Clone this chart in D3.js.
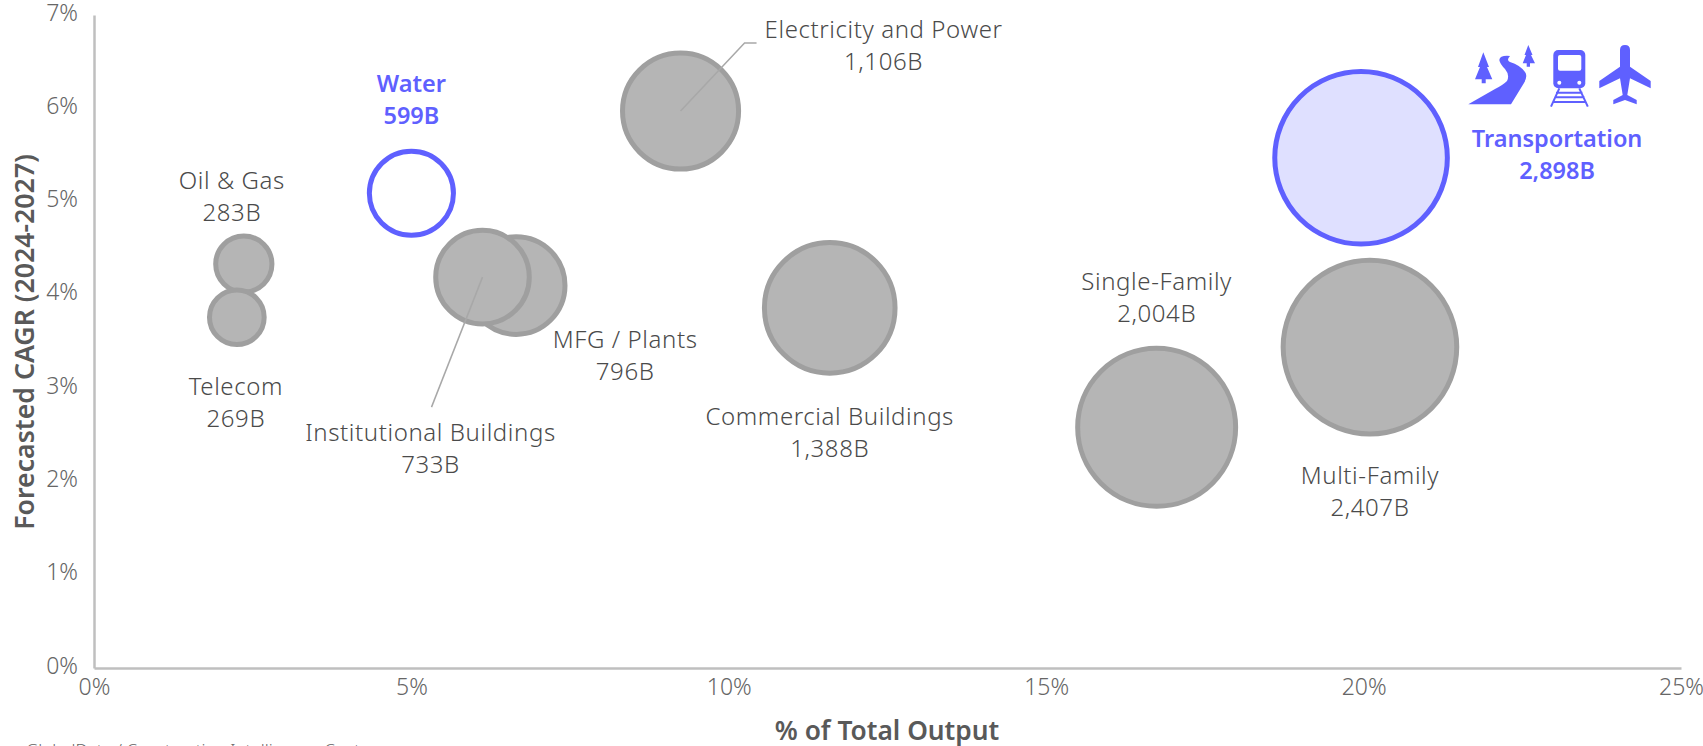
<!DOCTYPE html>
<html>
<head>
<meta charset="utf-8">
<script src="https://cdn.jsdelivr.net/npm/d3@7"></script>
<style>
html, body { margin: 0; padding: 0; background: #fff; overflow: hidden; }
svg { display: block; }
text { font-family: "Noto Sans", sans-serif; }
</style>
</head>
<body>
<div id="chart"></div>
<script>
// values
const names = ['Transportation', 'Multi-Family', 'Single-Family', 'Commercial Buildings', 'Electricity and Power',
   'MFG / Plants', 'Institutional Buildings', 'Water', 'Oil & Gas', 'Telecom'];
const shareOfOutput = [19.96, 20.1, 16.74, 11.59, 9.24, 6.65, 6.12, 5.0, 2.36, 2.25];
const forecastCagr = [5.47, 3.44, 2.58, 3.86, 5.97, 4.10, 4.19, 5.09, 4.33, 3.76];
const outputLabels = ['2,898B', '2,407B', '2,004B', '1,388B', '1,106B', '796B', '733B', '599B', '283B', '269B'];
// bubble sizes follow the labels, except Transportation which is drawn smaller than its label says
const bubbleSize = [2380, 2407, 2004, 1388, 1106, 796, 733, 599, 283, 269];
const highlighted = ['Transportation', 'Water'];
const xTicks = [0, 5, 10, 15, 20, 25];
const yTicks = [0, 1, 2, 3, 4, 5, 6, 7];

const outerWidth = 1703;
const outerHeight = 746;
const margin = {top: 15, right: 22, bottom: 78, left: 94};
const width = outerWidth - margin.left - margin.right;
const height = outerHeight - margin.top - margin.bottom;

const grey = '#b5b5b5';
const greyStroke = '#9f9f9f';
const blue = '#5f60ff';
const textColor = '#4a4a4a';
const tickColor = '#666666';
const strokeWidth = 5;

// label anchor: offset from the bubble centre to the middle of the first baseline
const labelOffset = {
   'Transportation': [196, -11],
   'Multi-Family': [0, 137],
   'Single-Family': [0, -137],
   'Commercial Buildings': [0, 117],
   'Electricity and Power': [203, -73],
   'MFG / Plants': [109, 62],
   'Institutional Buildings': [-52, 164],
   'Water': [0, -101],
   'Oil & Gas': [-12, -75],
   'Telecom': [-1, 78]
};
// leader lines, offsets from the bubble centre
const leaderOffset = {
   'Electricity and Power': [[0, 0], [64, -68], [76, -68]],
   'Institutional Buildings': [[0, 0], [-51, 130]]
};

const svg = d3.select('#chart').append('svg')
   .attr('width', outerWidth)
   .attr('height', outerHeight);

const g = svg.append('g')
   .attr('transform', `translate(${margin.left}, ${margin.top})`);

const x = d3.scaleLinear().domain([0, 25]).range([0, width]);
const y = d3.scaleLinear().domain([0, 7]).range([height, 0]);
const r = d3.scaleSqrt().domain([0, 2407]).range([0, 89.3]);

const xAxis = d3.axisBottom(x).tickValues(xTicks).tickFormat(d => d + '%').tickSize(0).tickPadding(11);
const yAxis = d3.axisLeft(y).tickValues(yTicks).tickFormat(d => d + '%').tickSize(0).tickPadding(16);

function styleAxis(sel) {
   sel.select('.domain').attr('stroke', '#bfbfbf').attr('stroke-width', 2.5);
   sel.selectAll('text')
      .attr('fill', tickColor)
      .style('font-size', '23px')
      .style('font-weight', 300)
      .style('font-family', '"Noto Sans", sans-serif');
}

g.append('g').attr('transform', `translate(0, ${height})`).call(xAxis).call(styleAxis);
g.append('g').call(yAxis).call(styleAxis)
   .selectAll('text').attr('dy', '0.22em');

// Axis titles
svg.append('text')
   .attr('x', 887)
   .attr('y', 740)
   .attr('text-anchor', 'middle')
   .attr('fill', '#595959')
   .style('font-size', '26.3px')
   .style('font-weight', 600)
   .text('% of Total Output');

svg.append('text')
   .attr('transform', 'translate(34, 342) rotate(-90)')
   .attr('text-anchor', 'middle')
   .attr('fill', '#595959')
   .style('font-size', '26.7px')
   .style('font-weight', 600)
   .text('Forecasted CAGR (2024-2027)');

// Bubbles, big to small so the small ones end up on top
const rows = names.map((name, i) => ({
   name: name,
   share: shareOfOutput[i],
   cagr: forecastCagr[i],
   label: outputLabels[i],
   size: bubbleSize[i],
   hot: highlighted.includes(name)
}));

g.selectAll('circle.bubble')
   .data(rows)
   .join('circle')
   .attr('class', 'bubble')
   .attr('cx', d => x(d.share))
   .attr('cy', d => y(d.cagr))
   .attr('r', d => r(d.size) - strokeWidth / 2)
   .attr('fill', d => d.name === 'Water' ? '#fff' : d.hot ? '#dfe0ff' : grey)
   .attr('stroke', d => d.hot ? blue : greyStroke)
   .attr('stroke-width', strokeWidth);

// Leader lines
const leaderLine = d3.line();
rows.filter(d => leaderOffset[d.name]).forEach(d => {
   g.append('path')
      .attr('d', leaderLine(leaderOffset[d.name].map(p => [x(d.share) + p[0], y(d.cagr) + p[1]])))
      .attr('fill', 'none')
      .attr('stroke', '#a8a8a8')
      .attr('stroke-width', 1.5);
});

// Labels
const labels = g.selectAll('text.bubble-label')
   .data(rows)
   .join('text')
   .attr('class', 'bubble-label')
   .attr('text-anchor', 'middle')
   .attr('fill', d => d.hot ? blue : textColor)
   .style('font-size', d => d.hot ? '23.5px' : '24px')
   .style('letter-spacing', d => d.hot ? '0' : '0.6px')
   .style('font-weight', d => d.hot ? 600 : 300);

labels.append('tspan')
   .attr('x', d => x(d.share) + labelOffset[d.name][0])
   .attr('y', d => y(d.cagr) + labelOffset[d.name][1])
   .text(d => d.name);

labels.append('tspan')
   .attr('x', d => x(d.share) + labelOffset[d.name][0])
   .attr('y', d => y(d.cagr) + labelOffset[d.name][1] + 32)
   .text(d => d.label);

// Source line, cut off by the bottom edge like in the picture
svg.append('text')
   .attr('x', 26)
   .attr('y', 756)
   .attr('fill', tickColor)
   .style('font-size', '17px')
   .style('font-weight', 300)
   .text('GlobalData / Construction Intelligence Center');

// Transportation icons
const icons = svg.append('g').attr('fill', blue);
// river and trees
icons.append('path').attr('d', 'M1468.3,104.3 L1511,104.3 L1524,83 Q1528,76 1525,72 Q1520,65 1510,62 Q1506,60 1510,56 Q1500,55 1499.3,60 Q1500,64 1505,69 Q1510,75 1507,81 Q1503,85 1495,89 Z');
icons.append('path').attr('d', 'M1483.3,52.3 L1489,67 L1487,67 L1492.3,79.3 L1485.7,79.3 L1485.7,83.3 L1481.7,83.3 L1481.7,79.3 L1475,79.3 L1480,67 L1478,67 Z');
icons.append('path').attr('d', 'M1528.3,45 L1532.5,55 L1531,55 L1535,63.3 L1530,63.3 L1530,66.7 L1526.7,66.7 L1526.7,63.3 L1522.7,63.3 L1526,55 L1524.5,55 Z');
// train
icons.append('rect').attr('x', 1553.3).attr('y', 50).attr('width', 32).attr('height', 38.3).attr('rx', 5);
icons.append('rect').attr('x', 1558).attr('y', 55).attr('width', 23.3).attr('height', 15.7).attr('rx', 2).attr('fill', '#fff');
icons.append('circle').attr('cx', 1559.3).attr('cy', 82.7).attr('r', 2).attr('fill', '#fff');
icons.append('circle').attr('cx', 1579.3).attr('cy', 82.7).attr('r', 2).attr('fill', '#fff');
icons.append('path')
   .attr('d', 'M1559.3,88.3 L1551,106.7 M1579.3,88.3 L1587.8,106.7 M1556,92.7 L1582.5,92.7 M1554.5,97.3 L1584.5,97.3 M1552.5,102 L1586,102')
   .attr('fill', 'none')
   .attr('stroke', blue)
   .attr('stroke-width', 2);
// plane
icons.append('path').attr('d', 'M1620,50 Q1620,45 1625,45 Q1630,45 1630,50 L1630,66.7 L1650.7,81 L1650.7,88.3 L1630,78.3 L1627.3,95 L1636.7,100 L1636.7,104.3 L1625,100 L1613.3,104.3 L1613.3,100 L1622.7,95 L1620,78.3 L1599.3,88.3 L1599.3,81 L1620,66.7 Z');
</script>
</body>
</html>
